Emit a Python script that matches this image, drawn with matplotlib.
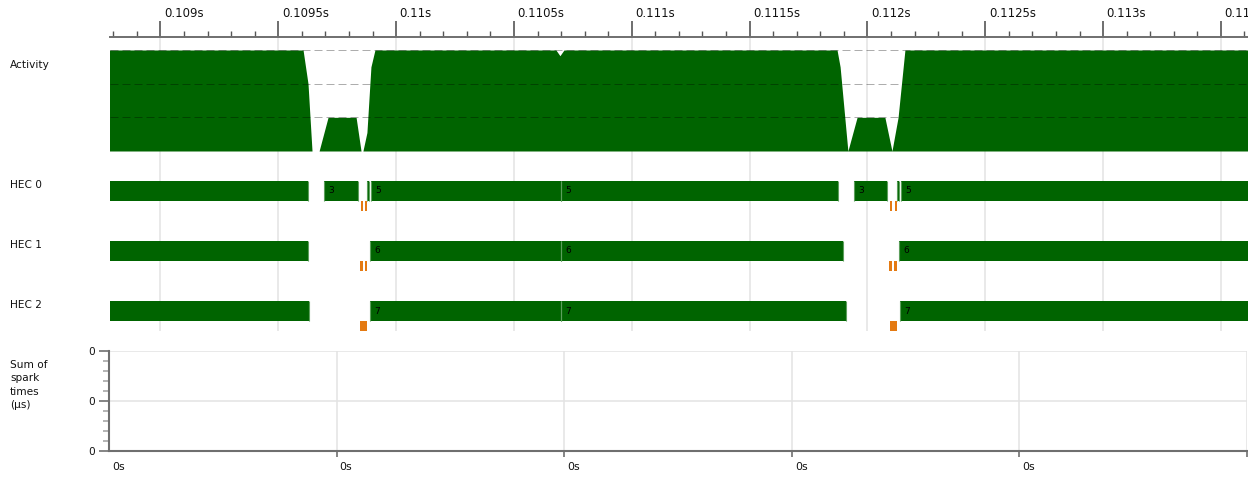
import numpy as np
import matplotlib
matplotlib.use("Agg")
import matplotlib.pyplot as plt
import matplotlib.transforms as mtransforms
from matplotlib.ticker import FixedLocator, MultipleLocator

# ---------------- data ----------------
view_start = 0.1087857
view_end = 0.1136149

major_ticks = [0.109, 0.1095, 0.110, 0.1105, 0.111, 0.1115, 0.112, 0.1125, 0.113, 0.1135]

# Activity profile (number of HECs busy, 0..3)
act_t = [0.1086, 0.109605, 0.109626, 0.109643, 0.109673, 0.109711, 0.109830,
         0.109851, 0.109859, 0.109876, 0.109893, 0.109910, 0.110678, 0.110695,
         0.110712, 0.111871, 0.111884, 0.111917, 0.111956, 0.112074, 0.112104,
         0.112130, 0.112159, 0.1138]
act_v = [3, 3, 2, 0, 0, 1, 1, 0, 0, 0.55, 2.5, 3, 3, 2.83, 3, 3, 2.5, 0, 1, 1, 0,
         1, 3, 3]

# HEC thread bars: (start, end, label)
hec0_start = [0.1086, 0.109694, 0.109878, 0.109893, 0.110700, 0.111943, 0.112125, 0.112142]
hec0_end = [0.109627, 0.109837, 0.109886, 0.110700, 0.111876, 0.112084, 0.112135, 0.1138]
hec0_lab = ["", "3", "", "5", "5", "3", "", "5"]

hec1_start = [0.1086, 0.109889, 0.110700, 0.112135]
hec1_end = [0.109627, 0.110700, 0.111896, 0.1138]
hec1_lab = ["", "6", "6", "6"]

hec2_start = [0.1086, 0.109890, 0.110700, 0.112139]
hec2_end = [0.109632, 0.110700, 0.111908, 0.1138]
hec2_lab = ["", "7", "7", "7"]

# spark / GC markers (orange)
spk0_start = [0.109851, 0.109868, 0.112096, 0.112116]
spk0_end = [0.109861, 0.109878, 0.112104, 0.112125]
spk1_start = [0.109847, 0.109867, 0.112092, 0.112113]
spk1_end = [0.109858, 0.109878, 0.112103, 0.112125]
spk2_start = [0.109848, 0.112096]
spk2_end = [0.109878, 0.112125]

hec_names = ["HEC 0", "HEC 1", "HEC 2"]

# spark times panel
spark_x_ticks = [0, 1, 2, 3, 4, 5]
spark_x_labels = ["0s", "0s", "0s", "0s", "0s", ""]
spark_y_ticks = [0, 0.5, 1]
spark_y_labels = ["0", "0", "0"]

# ---------------- layout ----------------
W, H = 1248, 501
fig = plt.figure(figsize=(W / 100, H / 100), dpi=100)
fig.patch.set_facecolor("white")


def rect(x0, y0, x1, y1):
    return [x0 / W, 1 - y1 / H, (x1 - x0) / W, (y1 - y0) / H]


def px(v):
    return v * 0.72


GREEN = "#006400"
EDGE = "#5c9f5c"
ORANGE = "#e47a12"
AXIS = "#6f6f6f"
GRID = "#e3e3e3"

# background axes with time axis and vertical grid
ax_bg = fig.add_axes(rect(110, 37, 1248, 331))
ax_bg.set_zorder(0)
ax_bg.set_xlim(view_start, view_end)
ax_bg.set_ylim(0, 1)
for s in ["left", "right", "bottom"]:
    ax_bg.spines[s].set_visible(False)
ax_bg.spines["top"].set_color(AXIS)
ax_bg.spines["top"].set_linewidth(1.4)
ax_bg.xaxis.set_ticks_position("top")
ax_bg.xaxis.set_major_locator(FixedLocator(major_ticks))
ax_bg.xaxis.set_minor_locator(MultipleLocator(0.0001))
ax_bg.set_xticklabels([("%.4f" % t).rstrip("0").rstrip(".") + "s" for t in major_ticks])
ax_bg.tick_params(axis="x", which="major", direction="out", length=px(16), width=1.2,
                  color="#555555", labelsize=8.4, pad=px(1), labelcolor="#111111")
ax_bg.tick_params(axis="x", which="minor", direction="out", length=px(6), width=1.0,
                  color="#555555")
ax_bg.set_yticks([])
off = mtransforms.ScaledTranslation(3.5 / 100, 0, fig.dpi_scale_trans)
for lbl in ax_bg.get_xticklabels():
    lbl.set_horizontalalignment("left")
    lbl.set_transform(lbl.get_transform() + off)
ax_bg.grid(axis="x", which="major", color=GRID, linewidth=1.1)
ax_bg.set_facecolor("white")

# activity panel
ax_act = fig.add_axes(rect(110, 50, 1248, 151))
ax_act.set_zorder(1)
ax_act.patch.set_alpha(0)
ax_act.set_xlim(view_start, view_end)
ax_act.set_ylim(0, 3)
ax_act.axis("off")
ax_act.fill_between(act_t, act_v, 0, color=GREEN, linewidth=0)
for yv in [1, 2, 3]:
    ax_act.axhline(yv, color="black", alpha=0.32, linewidth=0.72,
                   linestyle=(0, (8, 4)), clip_on=False)

# HEC panel
ax_hec = fig.add_axes(rect(110, 171, 1248, 351))
ax_hec.set_zorder(1)
ax_hec.patch.set_alpha(0)
ax_hec.set_xlim(view_start, view_end)
ax_hec.set_ylim(3, 0)
ax_hec.axis("off")

bars = [(hec0_start, hec0_end, hec0_lab), (hec1_start, hec1_end, hec1_lab),
        (hec2_start, hec2_end, hec2_lab)]
sparks = [(spk0_start, spk0_end), (spk1_start, spk1_end), (spk2_start, spk2_end)]
lab_off = mtransforms.ScaledTranslation(4 / 100, 0, fig.dpi_scale_trans)
for i, (st, en, lab) in enumerate(bars):
    segs = [(s, e - s) for s, e in zip(st, en)]
    ax_hec.broken_barh(segs, (i + 10 / 60, 20 / 60), facecolors=GREEN, edgecolor="none")
    ax_hec.vlines(st[1:], i + 10 / 60, i + 30 / 60, color=EDGE, linewidth=0.8)
    ax_hec.vlines(en[:-1], i + 10 / 60, i + 30 / 60, color=EDGE, linewidth=0.8)
    for s, l in zip(st, lab):
        if l and view_start <= s <= view_end:
            ax_hec.text(s, i + 20 / 60, l, fontsize=6.5, color="black", va="center",
                        ha="left", transform=ax_hec.transData + lab_off)
    ss, se = sparks[i]
    ax_hec.broken_barh([(s, e - s) for s, e in zip(ss, se)], (i + 30 / 60, 10 / 60),
                       facecolors=ORANGE, edgecolor="none")

# spark times panel
ax_sp = fig.add_axes(rect(109, 351, 1247, 451))
ax_sp.set_xlim(0, 5)
ax_sp.set_ylim(0, 1)
ax_sp.spines["top"].set_visible(False)
ax_sp.spines["right"].set_visible(False)
for s in ["left", "bottom"]:
    ax_sp.spines[s].set_color(AXIS)
    ax_sp.spines[s].set_linewidth(1.5)
ax_sp.set_xticks(spark_x_ticks)
ax_sp.set_xticklabels(spark_x_labels)
ax_sp.set_yticks(spark_y_ticks)
ax_sp.set_yticklabels(spark_y_labels)
ax_sp.yaxis.set_minor_locator(MultipleLocator(0.1))
ax_sp.tick_params(axis="x", which="major", direction="out", length=px(6), width=1.2,
                  color=AXIS, labelsize=7.8, pad=px(5), labelcolor="#111111")
ax_sp.tick_params(axis="y", which="major", direction="out", length=px(10), width=1.2,
                  color=AXIS, labelsize=7.6, pad=px(4), labelcolor="#111111")
ax_sp.tick_params(axis="y", which="minor", direction="out", length=px(6), width=1.2,
                  color="#a8a8a8")
off2 = mtransforms.ScaledTranslation(3 / 100, 0, fig.dpi_scale_trans)
for lbl in ax_sp.get_xticklabels():
    lbl.set_horizontalalignment("left")
    lbl.set_transform(lbl.get_transform() + off2)
ax_sp.xaxis.get_major_ticks()[0].tick1line.set_visible(False)
ax_sp.grid(True, which="major", color=GRID, linewidth=1.1)
ax_sp.set_axisbelow(True)

# row labels
def ftext(x, y, s, **kw):
    fig.text(x / W, 1 - y / H, s, fontsize=7.6, color="#111111", ha="left",
             va="center", **kw)

ftext(10, 65, "Activity")
for i, n in enumerate(hec_names):
    ftext(10, 185 + 60 * i, n)
ftext(10, 385, "Sum of\nspark\ntimes\n(µs)", linespacing=1.45)

fig.savefig("out.png", dpi=100)
